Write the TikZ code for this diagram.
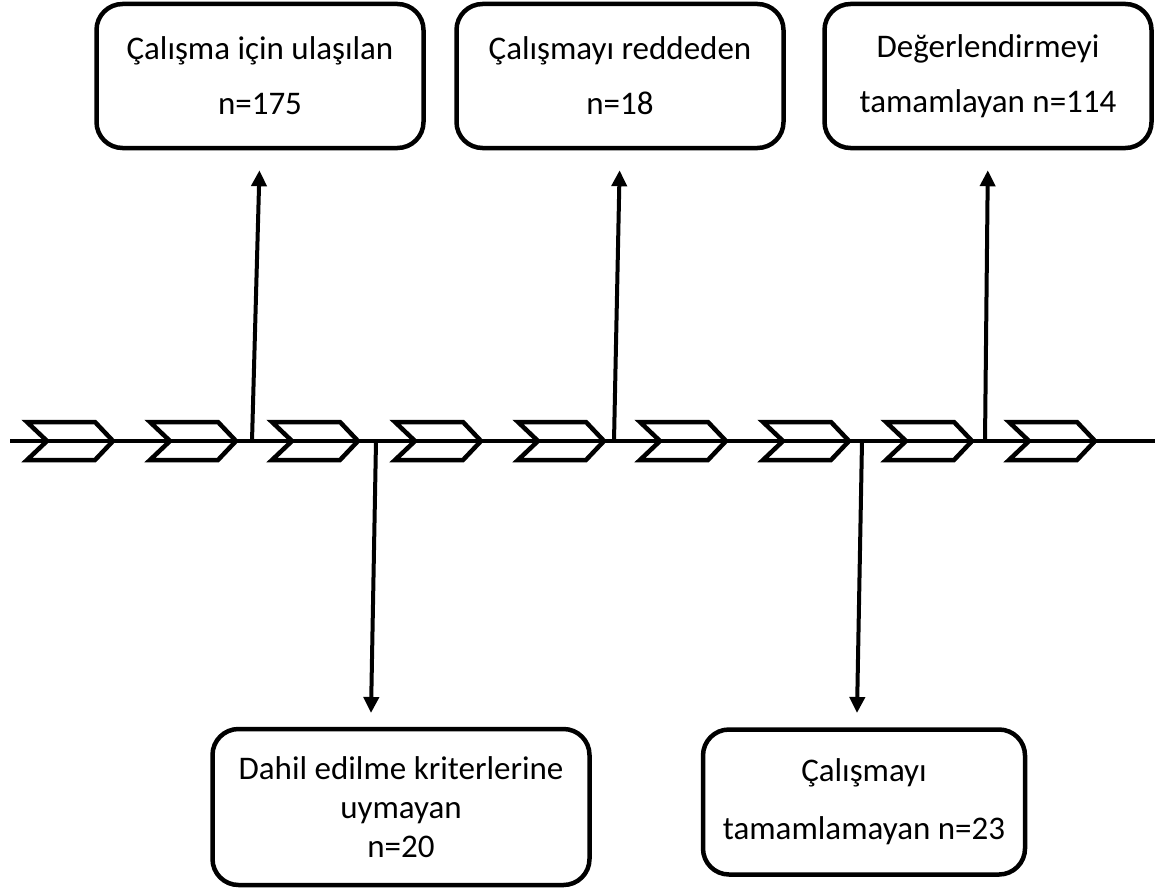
\documentclass[tikz,border=0pt]{standalone}
\usepackage{fontspec}
\setmainfont{Carlito}
\usetikzlibrary{arrows.meta}
\begin{document}
\begin{tikzpicture}[x=1pt,y=-1pt,
  box/.style={draw, line width=4.5pt, rounded corners=26pt, align=center, inner sep=0pt, fill=white},
  topbox/.style={box, minimum width=327pt, minimum height=144pt, font=\fontsize{33}{55}\selectfont},
  mainline/.style={line width=4pt},
  chev/.style={line width=4.5pt, line join=miter},
  conn/.style={line width=4pt, -{Triangle[width=15pt,length=16pt]}}
]
\useasboundingbox (0,0) rectangle (1166,891);
% boxes
\node[topbox] (b1) at (260,76) {Çalışma için ulaşılan\\n=175};
\node[topbox] (b2) at (620,76) {Çalışmayı reddeden\\n=18};
\node[topbox] (b3) at (988,76) {Değerlendirmeyi\\tamamlayan n=114};
\node[box, minimum width=377pt, minimum height=156pt, font=\fontsize{33}{39}\selectfont] (b4) at (401,807) {Dahil edilme kriterlerine\\uymayan\\n=20};
\node[box, minimum width=322pt, minimum height=145pt, font=\fontsize{33}{58}\selectfont] (b5) at (864,802) {Çalışmayı\\tamamlamayan n=23};
% main line
\coordinate (L) at (10,441);
\coordinate (R) at (1155,441);
\draw[mainline] (L) -- (R);
% chevrons
\foreach \x in {27,150,272,395,518,640,763,886,1009}{
  \draw[chev] (\x,422) -- (\x+68,422) -- (\x+86,441) -- (\x+68,460) -- (\x,460) -- (\x+20,441) -- cycle;
}
% junctions
\coordinate (j1) at (252,441);
\coordinate (j2) at (614,441);
\coordinate (j3) at (985,441);
\coordinate (j4) at (376,441);
\coordinate (j5) at (862,441);
\coordinate (t4) at (371,713);
\coordinate (t5) at (857,713);
\draw[conn, shorten >=20pt] (j1) -- (b1.south);
\draw[conn, shorten >=20pt] (j2) -- (b2.south);
\draw[conn, shorten >=20pt] (j3) -- (b3.south);
\draw[conn] (j4) -- (t4);
\draw[conn] (j5) -- (t5);
\end{tikzpicture}
\end{document}
